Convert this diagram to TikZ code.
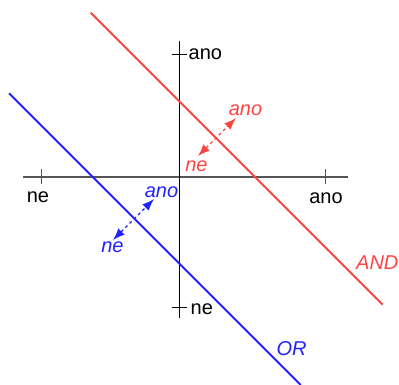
\documentclass[tikz,border=0pt]{standalone}
\usepackage{fontspec}
\setmainfont{Liberation Sans}
\usetikzlibrary{arrows.meta}
\definecolor{andred}{RGB}{255,68,68}
\definecolor{orblue}{RGB}{34,34,255}
\definecolor{axisgray}{RGB}{85,85,85}
\begin{document}
\begin{tikzpicture}[x=1bp,y=-1bp,
  lbl/.style={inner sep=0pt,font=\fontsize{20bp}{24bp}\selectfont},
  ilbl/.style={inner sep=0pt,font=\fontsize{20bp}{24bp}\selectfont\itshape},
  axisline/.style={line width=1.3bp},
  tickline/.style={line width=1bp},
  boundary/.style={line width=2bp},
  normal/.style={dashed,dash pattern=on 3bp off 3bp,line width=1.2bp,
    {Latex[length=12bp,width=9bp]}-{Latex[length=12bp,width=9bp]}}]
\useasboundingbox (0,0) rectangle (399,385);
% axes
\coordinate (xl) at (23,177);
\coordinate (xr) at (348,177);
\coordinate (yt) at (179.5,41);
\coordinate (yb) at (179.5,318);
\draw[axisline,axisgray] (xl) -- (xr);
\draw[axisline,black] (yt) -- (yb);
% ticks
\coordinate (tl1) at (41,169); \coordinate (tl2) at (41,184);
\coordinate (tr1) at (325,169); \coordinate (tr2) at (325,184);
\coordinate (tt1) at (172,54); \coordinate (tt2) at (187,54);
\coordinate (tb1) at (172,307); \coordinate (tb2) at (187,307);
\draw[tickline,axisgray] (tl1) -- (tl2);
\draw[tickline,axisgray] (tr1) -- (tr2);
\draw[tickline,black] (tt1) -- (tt2);
\draw[tickline,black] (tb1) -- (tb2);
% axis labels
\node[lbl,anchor=west] (ytop) at (188.5,54) {ano};
\node[lbl,anchor=west] (ybot) at (190.5,309) {ne};
\node[lbl] (xleft) at (38,197.5) {ne};
\node[lbl] (xright) at (326,198) {ano};
% AND line
\coordinate (and1) at (90.7,12.7);
\coordinate (and2) at (382.7,304.7);
\draw[boundary,andred] (and1) -- (and2);
\coordinate (ra) at (236,118);
\coordinate (rn) at (198,156);
\draw[normal,andred] (rn) -- (ra);
\node[ilbl,text=andred] (rano) at (245.5,110) {ano};
\node[ilbl,text=andred] (rne) at (196.5,166) {ne};
\node[ilbl,text=andred,anchor=west] (andlbl) at (356,263) {AND};
% OR line
\coordinate (or1) at (9,93.3);
\coordinate (or2) at (300.7,385);
\draw[boundary,orblue] (or1) -- (or2);
\coordinate (ba) at (154,199);
\coordinate (bn) at (113,240);
\draw[normal,orblue] (bn) -- (ba);
\node[ilbl,text=orblue] (bano) at (161.5,192) {ano};
\node[ilbl,text=orblue] (bne) at (112.5,247) {ne};
\node[ilbl,text=orblue] (orlbl) at (291.5,349) {OR};
\end{tikzpicture}
\end{document}
